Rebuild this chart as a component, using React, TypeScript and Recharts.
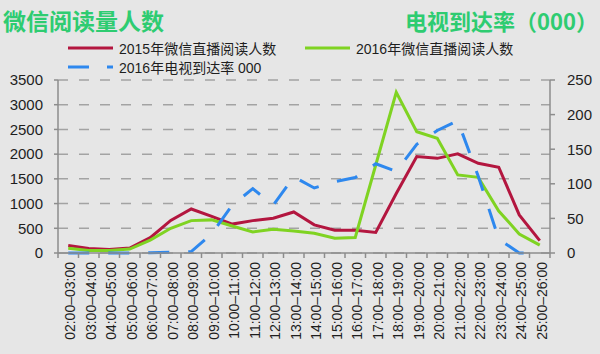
import { CartesianGrid, Line, LineChart, XAxis, YAxis } from "recharts";

const categories = [
  "02:00–03:00", "03:00–04:00", "04:00–05:00", "05:00–06:00",
  "06:00–07:00", "07:00–08:00", "08:00–09:00", "09:00–10:00",
  "10:00–11:00", "11:00–12:00", "12:00–13:00", "13:00–14:00",
  "14:00–15:00", "15:00–16:00", "16:00–17:00", "17:00–18:00",
  "18:00–19:00", "19:00–20:00", "20:00–21:00", "21:00–22:00",
  "22:00–23:00", "23:00–24:00", "24:00–25:00", "25:00–26:00",
];

// 微信直播阅读人数 (left axis)
const wechat2015 = [
  150, 90, 70, 100, 310, 660, 890, 740, 585, 655, 705, 830,
  570, 460, 460, 415, 1205, 1950, 1915, 2005, 1815, 1735, 770, 250,
];
const wechat2016 = [
  95, 50, 50, 80, 260, 500, 655, 670, 545, 425, 480, 445,
  400, 300, 315, 1780, 3250, 2455, 2320, 1580, 1530, 850, 385, 160,
];

// 电视到达率 000 (right axis)
const tvReach2016 = [
  0, 0, 0, 0, 0.5, 1, 2, 28, 69, 93, 69, 110,
  94, 103, 109, 129, 118, 157, 177, 191, 111, 20, 0, 0,
];

const leftTicks = [0, 500, 1000, 1500, 2000, 2500, 3000, 3500];
const rightTicks = [0, 50, 100, 150, 200, 250];

const RED = "#b3163f";
const GREEN = "#7fd322";
const BLUE = "#2e88ee";
const TITLE = "#2ecc71";
const AXIS = "#8c8c8c";
const FONT = "'Liberation Sans', 'Noto Sans CJK SC', sans-serif";

const data = categories.map((label, i) => ({
  pos: i + 0.5,
  label,
  wechat2015: wechat2015[i],
  wechat2016: wechat2016[i],
  tv: tvReach2016[i],
}));

// tick marks on the band edges, labels on the band centers
const xTicks: number[] = [];
for (let i = 0; i <= categories.length * 2; i++) xTicks.push(i / 2);

function XTick({ x, y, payload }: any) {
  const v = payload.value;
  if (Number.isInteger(v)) {
    return <line x1={x} y1={y} x2={x} y2={y + 5} stroke={AXIS} strokeWidth={1.5} />;
  }
  const ty = y + 9;
  const tx = x + 2;
  return (
    <text
      x={tx}
      y={ty}
      transform={`rotate(-90, ${tx}, ${ty})`}
      textAnchor="end"
      dominantBaseline="central"
      fontSize={14}
      fontFamily={FONT}
      fill="#1e1e1e"
    >
      {categories[Math.floor(v)]}
    </text>
  );
}

function LegendItem({ color, dashed, text }: { color: string; dashed?: boolean; text: string }) {
  return (
    <div style={{ display: "flex", alignItems: "center", height: 19 }}>
      <svg width={45} height={6} style={{ marginRight: 6 }}>
        <line
          x1={0}
          y1={3}
          x2={45}
          y2={3}
          stroke={color}
          strokeWidth={3}
          strokeDasharray={dashed ? "21 18" : undefined}
        />
      </svg>
      <span>{text}</span>
    </div>
  );
}

export default function App() {
  return (
    <div
      style={{
        position: "absolute",
        left: 0,
        top: 0,
        width: 600,
        height: 354,
        background: "#e6e6e6",
        fontFamily: FONT,
        overflow: "hidden",
      }}
    >
      <div
        style={{
          position: "absolute",
          left: 3,
          top: 5,
          fontSize: 23,
          fontWeight: 700,
          color: TITLE,
          lineHeight: "30px",
          fontFamily: "'Noto Sans CJK SC', sans-serif",
        }}
      >
        微信阅读量人数
      </div>
      <div
        style={{
          position: "absolute",
          right: 2,
          top: 5,
          fontSize: 22,
          fontWeight: 700,
          color: TITLE,
          lineHeight: "30px",
          fontFamily: "'Noto Sans CJK SC', sans-serif",
        }}
      >
        电视到达率（000）
      </div>

      <div style={{ position: "absolute", left: 68, top: 38, fontSize: 14, color: "#1e1e1e" }}>
        <LegendItem color={RED} text="2015年微信直播阅读人数" />
        <LegendItem color={BLUE} dashed text="2016年电视到达率 000" />
      </div>
      <div style={{ position: "absolute", left: 305, top: 38, fontSize: 14, color: "#1e1e1e" }}>
        <LegendItem color={GREEN} text="2016年微信直播阅读人数" />
      </div>

      <LineChart
        width={600}
        height={354}
        data={data}
        margin={{ top: 80, right: 0, bottom: 6, left: 8 }}
      >
        <CartesianGrid
          yAxisId="left"
          vertical={false}
          stroke="#a3a3a3"
          strokeWidth={1.5}
          strokeDasharray="10 11"
        />
        <XAxis
          dataKey="pos"
          type="number"
          domain={[0, categories.length]}
          allowDataOverflow
          ticks={xTicks}
          interval={0}
          tick={<XTick />}
          tickLine={false}
          tickSize={0}
          tickMargin={0}
          height={95}
          axisLine={{ stroke: AXIS, strokeWidth: 1.5 }}
        />
        <YAxis
          yAxisId="left"
          width={50}
          domain={[0, 3500]}
          ticks={leftTicks}
          interval={0}
          tickSize={4}
          tickMargin={11}
          axisLine={{ stroke: AXIS, strokeWidth: 1.5 }}
          tickLine={{ stroke: AXIS, strokeWidth: 1.5 }}
          tick={{ fontSize: 15, fill: "#1e1e1e", fontFamily: FONT }}
        />
        <YAxis
          yAxisId="right"
          orientation="right"
          width={50}
          domain={[0, 250]}
          ticks={rightTicks}
          interval={0}
          tickSize={5}
          tickMargin={12}
          axisLine={{ stroke: AXIS, strokeWidth: 1.5 }}
          tickLine={{ stroke: AXIS, strokeWidth: 1.5 }}
          tick={{ fontSize: 15, fill: "#1e1e1e", fontFamily: FONT }}
        />
        <Line
          yAxisId="left"
          dataKey="wechat2015"
          stroke={RED}
          strokeWidth={3}
          dot={false}
          isAnimationActive={false}
        />
        <Line
          yAxisId="left"
          dataKey="wechat2016"
          stroke={GREEN}
          strokeWidth={3}
          dot={false}
          isAnimationActive={false}
        />
        <Line
          yAxisId="right"
          dataKey="tv"
          stroke={BLUE}
          strokeWidth={3}
          strokeDasharray="21 19"
          dot={false}
          isAnimationActive={false}
        />
      </LineChart>
    </div>
  );
}
